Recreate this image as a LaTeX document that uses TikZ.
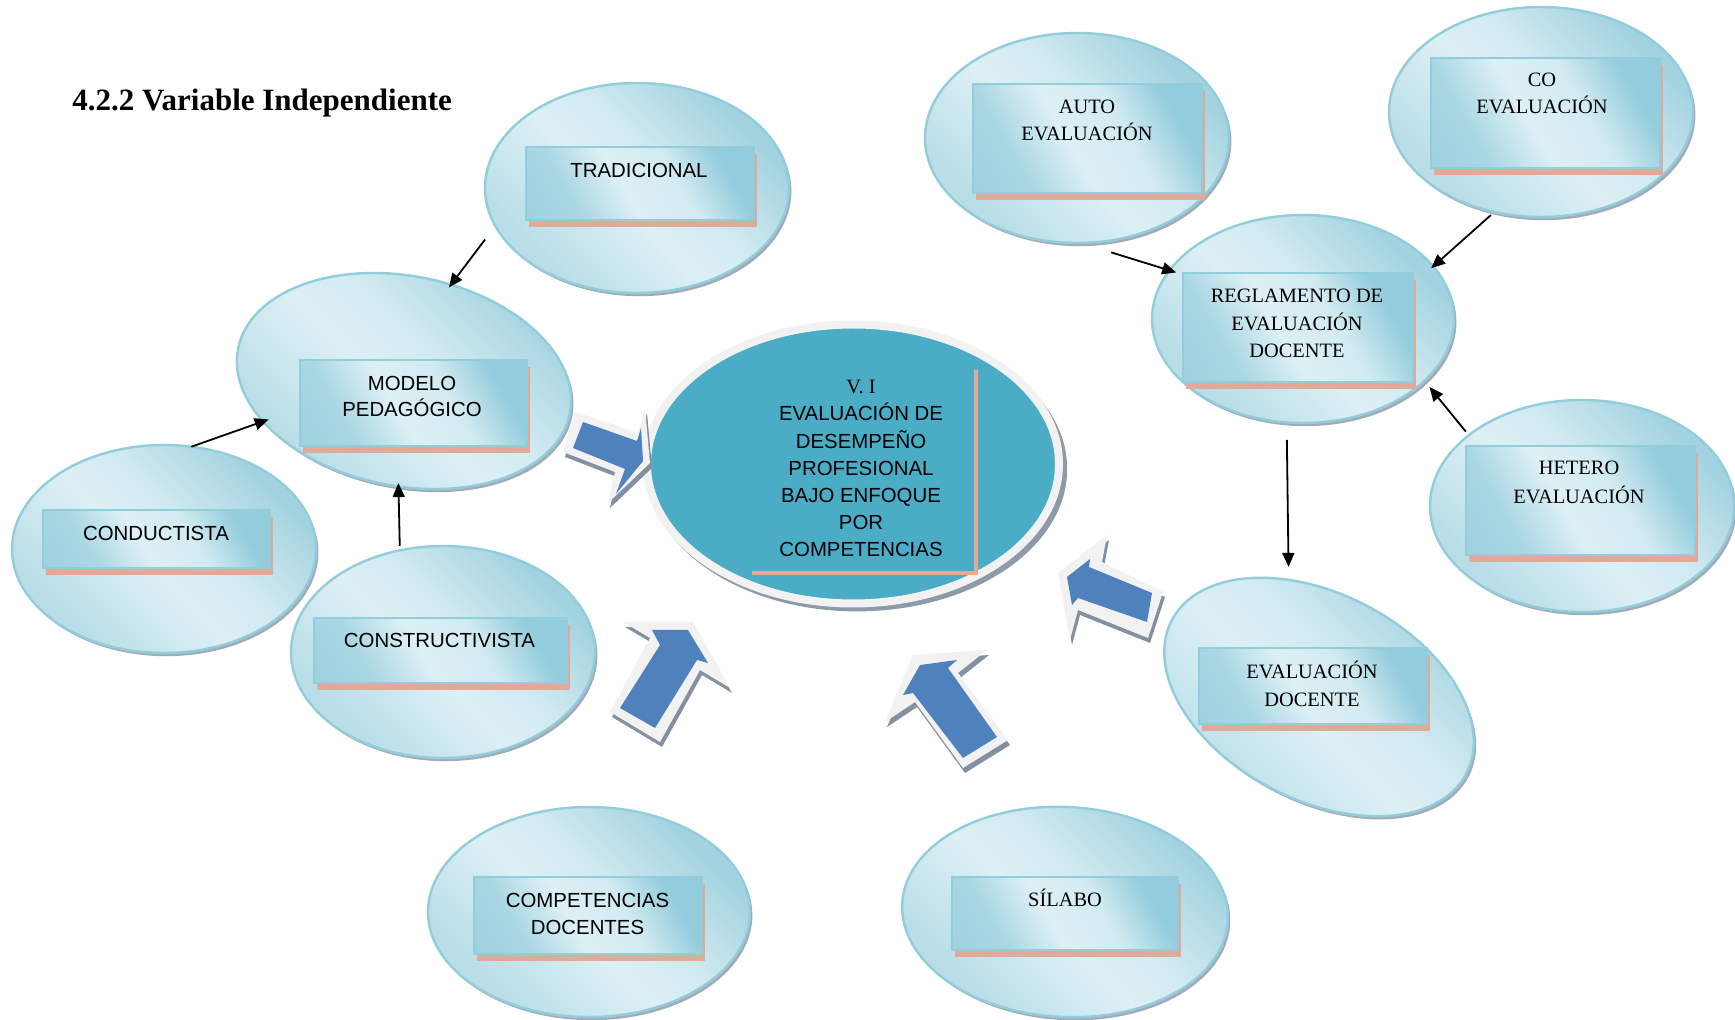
\documentclass[tikz,border=0pt]{standalone}
\usepackage{fontspec}
\setmainfont{Liberation Serif}
\newfontfamily\arialf{Liberation Sans}
\usetikzlibrary{shapes.geometric,shadows,arrows.meta}

\definecolor{rimblue}{HTML}{92CDDC}
\definecolor{palecyan}{HTML}{DDF0F5}
\definecolor{midcyan}{HTML}{B9DEE8}
\definecolor{deepcyan}{HTML}{A3D3E0}
\definecolor{tagdark}{HTML}{93CCDC}
\definecolor{coreteal}{HTML}{4BACC6}
\definecolor{rimgray}{HTML}{F2F2F2}
\definecolor{hatchgray}{HTML}{8390A0}
\definecolor{salmon}{HTML}{E2A898}
\definecolor{arrowblue}{HTML}{4F81BD}

% diagonal band fill of the light bubbles and their labels
\pgfdeclarehorizontalshading{bubblefill}{100bp}{%
  color(0bp)=(midcyan); color(27bp)=(midcyan); color(46bp)=(palecyan);
  color(56bp)=(palecyan!80!deepcyan); color(73bp)=(deepcyan); color(100bp)=(deepcyan)}
\pgfdeclarehorizontalshading{tagfill}{100bp}{%
  color(0bp)=(tagdark); color(30bp)=(tagdark!70!palecyan); color(45bp)=(palecyan);
  color(60bp)=(palecyan!85!tagdark); color(74bp)=(tagdark); color(100bp)=(tagdark)}

\tikzset{
  bubble/.style={ellipse, draw=rimblue, line width=1.2pt, shade, shading=bubblefill,
    shading angle=45, inner sep=0pt, outer sep=0pt,
    drop shadow={shadow xshift=1.2pt, shadow yshift=-1.6pt, fill=hatchgray, opacity=0.75}},
  tag/.style={rectangle, draw=rimblue, line width=1pt, shade, shading=tagfill,
    shading angle=30, inner sep=0pt, outer sep=0pt,
    drop shadow={shadow xshift=1.5pt, shadow yshift=-3.5pt, fill=salmon, opacity=1}},
  sanslabel/.style={font=\arialf\fontsize{10.2}{13.6}\selectfont, align=center,
    anchor=base, inner sep=0pt},
  seriflabel/.style={font=\fontsize{10.2}{13.7}\selectfont, align=center,
    anchor=base, inner sep=0pt},
  link/.style={line width=0.9pt, -{Triangle[length=7pt,width=6pt]}},
  blockshadow/.style={fill=hatchgray, shift={(2,5)}},
  blockrim/.style={fill=rimgray},
  blockbody/.style={fill=arrowblue}
}

\begin{document}
\begin{tikzpicture}[x=0.5pt,y=-0.5pt]
\fill[white] (0,0) rectangle (1735,1020);
\useasboundingbox (0,0) rectangle (1735,1020);

% heading
\node[anchor=base west, inner sep=0pt, font=\bfseries\fontsize{15.5}{18}\selectfont]
  (title) at (72,111) {4.2.2 Variable Independiente};

% central idea (multi-line labels are placed by the baseline of their last line)
\node[ellipse, minimum width=206pt, minimum height=139.5pt, inner sep=0pt,
  fill=coreteal, draw=rimgray, line width=4pt,
  drop shadow={shadow scale=1.02, shadow xshift=2pt, shadow yshift=-2.5pt, fill=hatchgray, opacity=0.9}]
  (core) at (853,464) {};
\draw[salmon, line width=2pt] (752,573) -- (976,573) -- (976,370);
\node[sanslabel] (coretext) at (861,557)
  {{\rmfamily V. I}\\EVALUACIÓN DE\\DESEMPEÑO\\PROFESIONAL\\BAJO ENFOQUE\\POR\\COMPETENCIAS};

% left cluster
\node[bubble, minimum width=152pt, minimum height=105pt] (trad) at (637,188) {};
\node[tag, minimum width=114pt, minimum height=36.5pt] (tradbox) at (640,183.5) {};
\node[sanslabel] (tradtext) at (639,177.3) {TRADICIONAL};

\node[bubble, minimum width=169pt, minimum height=105pt, rotate=-11] (model) at (404,381) {};
\node[tag, minimum width=113.5pt, minimum height=43pt] (modelbox) at (413.5,403) {};
\node[sanslabel, font=\arialf\fontsize{10.2}{13.3}\selectfont] (modeltext) at (412,416.8) {MODELO\\PEDAGÓGICO};

\node[bubble, minimum width=152pt, minimum height=104pt] (cond) at (164,549) {};
\node[tag, minimum width=113.5pt, minimum height=29pt] (condbox) at (156.5,539) {};
\node[sanslabel] (condtext) at (156,540.3) {CONDUCTISTA};

\node[bubble, minimum width=152pt, minimum height=106pt] (constr) at (443,652) {};
\node[tag, minimum width=126.5pt, minimum height=32.5pt] (constrbox) at (440.5,650.5) {};
\node[sanslabel] (constrtext) at (439.5,648) {CONSTRUCTIVISTA};

\node[bubble, minimum width=161pt, minimum height=105pt] (comp) at (589,912) {};
\node[tag, minimum width=114pt, minimum height=38.5pt] (compbox) at (588,915.5) {};
\node[sanslabel] (comptext) at (587.5,934.5) {COMPETENCIAS\\DOCENTES};

\node[bubble, minimum width=163pt, minimum height=105pt, rotate=-3] (sil) at (1065,912) {};
\node[tag, minimum width=113pt, minimum height=36.5pt] (silbox) at (1065,913.5) {};
\node[seriflabel] (siltext) at (1065,906.75) {SÍLABO};

% right cluster
\node[bubble, minimum width=152pt, minimum height=105pt] (auto) at (1077,138) {};
\node[tag, minimum width=114.5pt, minimum height=54.5pt] (autobox) at (1087.5,138.5) {};
\node[seriflabel, font=\fontsize{10.2}{13.35}\selectfont] (autotext) at (1087,140.45) {AUTO\\EVALUACIÓN};

\node[bubble, minimum width=152pt, minimum height=105pt] (co) at (1541,112) {};
\node[tag, minimum width=114.5pt, minimum height=55pt] (cobox) at (1545.5,113) {};
\node[seriflabel, font=\fontsize{10.2}{13.5}\selectfont] (cotext) at (1542,113.75) {CO\\EVALUACIÓN};

\node[bubble, minimum width=151pt, minimum height=104pt] (regl) at (1303,319) {};
\node[tag, minimum width=115pt, minimum height=54.5pt] (reglbox) at (1298,327.5) {};
\node[seriflabel] (regltext) at (1297,357.8) {REGLAMENTO DE\\EVALUACIÓN\\DOCENTE};

\node[bubble, minimum width=152pt, minimum height=106pt] (het) at (1582,506) {};
\node[tag, minimum width=114.5pt, minimum height=54.5pt] (hetbox) at (1580.5,500.5) {};
\node[seriflabel, font=\fontsize{10.2}{14.4}\selectfont] (hettext) at (1579,503.5) {HETERO\\EVALUACIÓN};

\node[bubble, minimum width=166pt, minimum height=103pt, rotate=-27.5] (evald) at (1319,697) {};
\node[tag, minimum width=114pt, minimum height=38pt] (evaldbox) at (1313,686) {};
\node[seriflabel, font=\fontsize{10.2}{14}\selectfont] (evaldtext) at (1312,706.75) {EVALUACIÓN\\DOCENTE};

% thin connectors
\draw[link, shorten <=8.5pt, shorten >=-1.75pt] (trad.195) -- (model.75);
\draw[link, shorten >=-3pt] (cond.75) -- (model.207);
\draw[link, shorten <=2.3pt, shorten >=-1.7pt] (constr.113) -- (model.278);
\draw[link, shorten <=16pt, shorten >=-3.5pt] (auto.272) -- (regl.160);
\draw[link, shorten <=2.3pt, shorten >=-1.4pt] (co.245) -- (regl.22);
\draw[link, shorten <=2.3pt, shorten >=4pt] (het.148) -- (regl.333);
\draw[link, shorten <=8.8pt, shorten >=6.5pt] (regl.261) -- (evald.132);

% block arrows pointing at the central idea
% from the left
\fill[blockshadow] (575,412) -- (638,433) -- (645,408) -- (650,463) -- (608,503) -- (615,472) -- (563,452) -- cycle;
\fill[blockrim] (575,412) -- (638,433) -- (645,408) -- (650,463) -- (608,503) -- (615,472) -- (563,452) -- cycle;
\fill[blockbody] (583,422) -- (637,441) -- (641,428) -- (643,461) -- (616,494) -- (625,469) -- (573,448) -- cycle;
% from the lower left
\fill[blockshadow] (623,622) -- (693,622) -- (730,688) -- (700,670) -- (660,742) -- (610,712) -- (650,638) -- cycle;
\fill[blockrim] (623,622) -- (693,622) -- (730,688) -- (700,670) -- (660,742) -- (610,712) -- (650,638) -- cycle;
\fill[blockbody] (652,630) -- (688,630) -- (708,663) -- (697,660) -- (655,728) -- (620,708) -- (660,645) -- cycle;
% from the lower middle
\fill[blockshadow] (913,655) -- (987,650) -- (958,673) -- (1008,740) -- (963,768) -- (915,702) -- (885,722) -- cycle;
\fill[blockrim] (913,655) -- (987,650) -- (958,673) -- (1008,740) -- (963,768) -- (915,702) -- (885,722) -- cycle;
\fill[blockbody] (920,665) -- (957,660) -- (948,668) -- (997,737) -- (963,758) -- (913,693) -- (903,695) -- cycle;
% from the right
\fill[blockshadow] (1058,573) -- (1107,535) -- (1102,562) -- (1163,592) -- (1148,638) -- (1078,610) -- (1070,640) -- cycle;
\fill[blockrim] (1058,573) -- (1107,535) -- (1102,562) -- (1163,592) -- (1148,638) -- (1078,610) -- (1070,640) -- cycle;
\fill[blockbody] (1067,577) -- (1090,559) -- (1089,567) -- (1152,593) -- (1147,622) -- (1078,598) -- (1072,605) -- cycle;
\end{tikzpicture}
\end{document}
